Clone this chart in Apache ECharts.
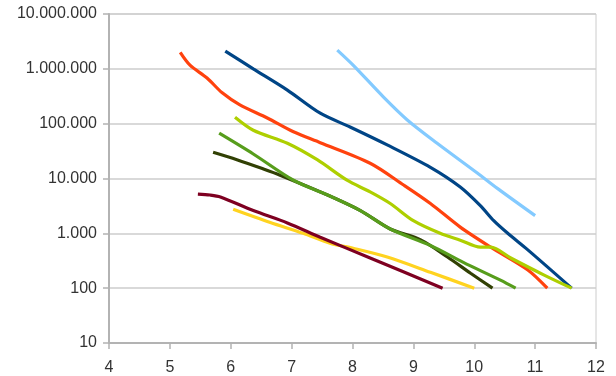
<!DOCTYPE html>
<html>
<head>
<meta charset="utf-8">
<script src="https://cdn.jsdelivr.net/npm/echarts@6/dist/echarts.min.js"></script>
<style>
html,body{margin:0;padding:0;background:#fff;}
#chart{width:616px;height:376px;}
</style>
</head>
<body>
<div id="chart"></div>
<script>
// Series data: [x, y] pairs
const darkBlueX = [5.91, 6.37, 6.93, 7.47, 7.96, 8.57, 9.28, 9.77, 10.1, 10.32, 10.55, 10.88, 11.6];
const darkBlueY = [2100000, 1000000, 410000, 155000, 87000, 41000, 16000, 7000, 3200, 1700, 1000, 500, 100];

const redX = [5.17, 5.33, 5.61, 5.86, 6.15, 6.6, 7.03, 7.47, 8.29, 8.84, 9.28, 9.77, 10.27, 10.88, 11.2];
const redY = [2000000, 1170000, 680000, 365000, 220000, 127000, 71000, 45000, 19000, 7600, 3500, 1300, 560, 215, 100];

const yellowX = [6.04, 6.65, 7.19, 7.63, 8.01, 8.57, 9.28, 10.0];
const yellowY = [2760, 1580, 1000, 660, 535, 370, 195, 100];

const greenX = [5.81, 6.37, 7.03, 7.59, 8.13, 8.62, 9.28, 9.82, 10.43, 10.68];
const greenY = [67000, 28000, 9300, 5000, 2600, 1200, 600, 295, 140, 100];

const maroonX = [5.46, 5.66, 5.83, 6.37, 6.93, 7.47, 8.29, 9.48];
const maroonY = [5200, 5000, 4600, 2600, 1550, 850, 355, 100];

const lightBlueX = [7.75, 8.01, 8.51, 8.9, 9.39, 10.05, 10.38, 11.0];
const lightBlueY = [2200000, 1170000, 305000, 117000, 44000, 12600, 6600, 2100];

const oliveX = [5.71, 6.1, 6.53, 6.81, 7.59, 8.13, 8.62, 9.12, 9.56, 9.94, 10.3];
const oliveY = [30000, 22000, 15000, 11500, 5000, 2600, 1200, 760, 370, 187, 100];

const limeX = [6.07, 6.37, 6.93, 7.42, 7.91, 8.29, 8.62, 9.0, 9.44, 9.77, 10.1, 10.27, 10.6, 11.14, 11.6];
const limeY = [131000, 76000, 44000, 22000, 9300, 5700, 3500, 1700, 1000, 750, 560, 560, 355, 175, 100];

const xTicks = [4, 5, 6, 7, 8, 9, 10, 11, 12];
const yTicks = [10, 100, 1000, 10000, 100000, 1000000, 10000000];

function pairs(xs, ys) { return xs.map((x, i) => [x, ys[i]]); }
function fmt(v) {
  return String(Math.round(v)).replace(/\B(?=(\d{3})+(?!\d))/g, '.');
}

const seriesDefs = [
  { name: 'A', color: '#004586', x: darkBlueX, y: darkBlueY },
  { name: 'B', color: '#ff420e', x: redX, y: redY },
  { name: 'C', color: '#ffd320', x: yellowX, y: yellowY },
  { name: 'G', color: '#314004', x: oliveX, y: oliveY },
  { name: 'D', color: '#579d1c', x: greenX, y: greenY },
  { name: 'E', color: '#7e0021', x: maroonX, y: maroonY },
  { name: 'F', color: '#83caff', x: lightBlueX, y: lightBlueY },
  { name: 'H', color: '#aecf00', x: limeX, y: limeY }
];

const chart = echarts.init(document.getElementById('chart'), null, { renderer: 'canvas' });
chart.setOption({
  animation: false,
  backgroundColor: '#ffffff',
  grid: {
    left: 109, right: 20, top: 14, bottom: 33,
    show: true, borderColor: '#cccccc', borderWidth: 1, backgroundColor: 'transparent'
  },
  xAxis: {
    type: 'value',
    min: xTicks[0], max: xTicks[xTicks.length - 1], interval: 1,
    axisLine: { show: true, lineStyle: { color: '#b3b3b3', width: 2 } },
    axisTick: { show: true, length: 6, lineStyle: { color: '#b3b3b3', width: 1.5 } },
    splitLine: { show: false },
    axisLabel: { margin: 17, fontFamily: 'Liberation Sans, Arial, sans-serif', fontSize: 16, color: '#333333' }
  },
  yAxis: {
    type: 'log', logBase: 10,
    min: yTicks[0], max: yTicks[yTicks.length - 1],
    axisLine: { show: true, lineStyle: { color: '#b3b3b3', width: 2 } },
    axisTick: { show: true, length: 6, lineStyle: { color: '#b3b3b3', width: 1.5 } },
    splitLine: { show: true, lineStyle: { color: '#cccccc', width: 1.5 } },
    axisLabel: {
      margin: 12, fontFamily: 'Liberation Sans, Arial, sans-serif', fontSize: 16, color: '#333333',
      formatter: v => fmt(v)
    }
  },
  series: seriesDefs.map(s => ({
    name: s.name,
    type: 'line',
    data: pairs(s.x, s.y),
    smooth: 0.3,
    showSymbol: false,
    symbol: 'none',
    lineStyle: { color: s.color, width: 3.2, cap: 'butt' },
    itemStyle: { color: s.color }
  }))
});
</script>
</body>
</html>
